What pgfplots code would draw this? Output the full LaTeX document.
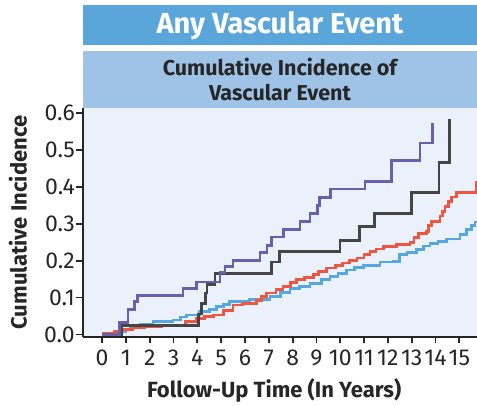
\documentclass[border=0pt]{standalone}
\usepackage{fontspec}
\setmainfont{Fira Sans}
\usepackage{pgfplots}
\pgfplotsset{compat=1.18}
\definecolor{titlebox}{HTML}{5AA5DA}
\definecolor{subbox}{HTML}{9EC3E7}
\definecolor{plotbg}{HTML}{EAF1FA}
\definecolor{cpurple}{HTML}{6A5FAA}
\definecolor{cgray}{HTML}{454545}
\definecolor{cred}{HTML}{F0553F}
\definecolor{cblue}{HTML}{55A7DF}
\begin{document}
\begin{tikzpicture}
\path[use as bounding box] (-83pt,-69pt) rectangle (394pt,337pt);
\fill[titlebox] (0pt,292pt) rectangle (394pt,332pt);
\fill[subbox] (0pt,229pt) rectangle (394pt,286pt);
\node[white,font=\fontsize{29}{29}\selectfont\bfseries] at (197pt,311pt) {Any Vascular Event};
\node[black!85,font=\fontsize{21.5}{25}\selectfont\bfseries,align=center] at (197pt,257.5pt) {Cumulative Incidence of\\Vascular Event};
\begin{axis}[
  scale only axis, width=394pt, height=229pt,
  at={(0pt,0pt)}, anchor=south west,
  xmin=-0.8, xmax=15.74, ymin=-0.007, ymax=0.614,
  axis background/.style={fill=plotbg},
  axis x line*=bottom, axis y line*=left,
  axis line style={-, line width=2pt, black!85},
  xtick={0,...,15}, ytick={0,0.1,...,0.6},
  tick style={line width=1.8pt, black!85},
  tick align=outside, major tick length=6.5pt,
  /pgf/number format/assume math mode=true,
  ticklabel style={font=\fontsize{23}{23}\selectfont, text=black!85},
  yticklabel style={/pgf/number format/.cd, fixed, fixed zerofill, precision=1, /tikz/.cd, inner sep=1.5pt},
  xticklabel style={inner sep=1pt, yshift=-5pt},
  xlabel={Follow-Up Time (In Years)},
  ylabel={Cumulative Incidence},
  xlabel style={at={(axis description cs:0.485,-0.233)}, anchor=center, font=\fontsize{22}{22}\selectfont\bfseries, text=black!85},
  ylabel style={at={(axis description cs:-0.165,0.5)}, anchor=center, rotate=0, font=\fontsize{22}{22}\selectfont\bfseries, text=black!85},
  clip=true,
  every axis plot/.append style={const plot, line width=2.7pt, no marks},
]
\addplot[cblue] coordinates {(0,0)(0.4,0.003)(0.74,0.007)(1.0,0.013)(1.18,0.021)(1.6,0.028)(2.14,0.035)(2.98,0.039)(3.3,0.047)(3.54,0.053)(4.1,0.062)(4.5,0.068)(4.8,0.075)(5.1,0.082)(5.36,0.089)(5.78,0.091)(6.2,0.095)(7.05,0.103)(7.5,0.113)(7.89,0.125)(8.3,0.13)(8.73,0.139)(9.2,0.148)(9.57,0.157)(9.9,0.166)(10.27,0.175)(10.6,0.181)(10.97,0.186)(11.67,0.196)(12.24,0.198)(12.5,0.216)(12.8,0.222)(13.2,0.23)(13.5,0.24)(13.77,0.246)(14.1,0.252)(14.47,0.259)(15.03,0.271)(15.31,0.285)(15.5,0.295)(15.66,0.305)(15.8,0.305)};
\addplot[cred] coordinates {(0,0.003)(0.5,0.008)(0.74,0.014)(1.3,0.018)(1.8,0.021)(2.5,0.023)(2.98,0.025)(3.5,0.035)(3.97,0.044)(4.3,0.048)(4.67,0.053)(5.1,0.065)(5.5,0.08)(5.9,0.084)(6.49,0.092)(6.7,0.103)(6.9,0.112)(7.3,0.122)(7.6,0.13)(7.9,0.14)(8.17,0.148)(8.5,0.155)(8.87,0.162)(9.1,0.17)(9.43,0.18)(9.8,0.187)(10.1,0.194)(10.4,0.2)(10.7,0.207)(11.0,0.217)(11.25,0.225)(11.5,0.232)(11.81,0.239)(12.37,0.244)(12.93,0.25)(13.1,0.262)(13.28,0.274)(13.63,0.28)(13.7,0.295)(13.84,0.307)(14.19,0.321)(14.3,0.333)(14.4,0.346)(14.55,0.36)(14.68,0.373)(14.89,0.385)(15.73,0.416)};
\addplot[cgray] coordinates {(0,0)(0.84,0.025)(4.06,0.055)(4.18,0.083)(4.34,0.112)(4.41,0.136)(4.74,0.166)(7.12,0.196)(7.44,0.225)(9.99,0.255)(10.80,0.292)(11.43,0.327)(13.0,0.385)(14.15,0.466)(14.58,0.585)};
\addplot[cpurple] coordinates {(0,0)(0.74,0.032)(1.09,0.068)(1.37,0.089)(1.49,0.105)(3.40,0.125)(3.97,0.142)(4.95,0.168)(5.16,0.185)(5.50,0.20)(6.63,0.223)(6.93,0.241)(7.12,0.264)(7.61,0.285)(8.31,0.306)(8.73,0.327)(9.03,0.35)(9.12,0.372)(9.60,0.394)(11.04,0.415)(12.16,0.471)(13.35,0.519)(13.87,0.574)};
\end{axis}
\end{tikzpicture}
\end{document}
